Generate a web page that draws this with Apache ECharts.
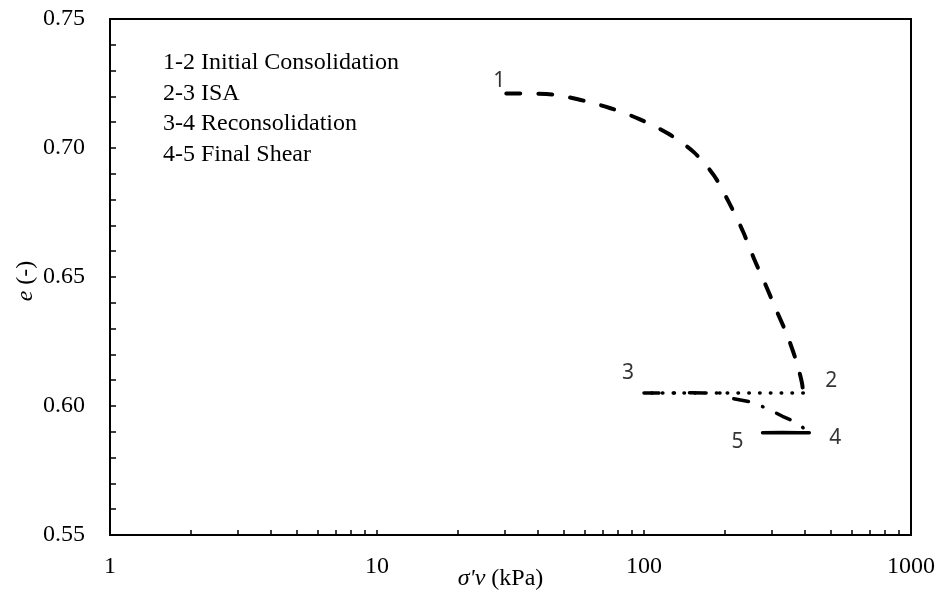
<!DOCTYPE html>
<html>
<head>
<meta charset="utf-8">
<script src="https://cdn.jsdelivr.net/npm/echarts@6/dist/echarts.min.js"></script>
<style>
  html, body { margin: 0; padding: 0; background: #fff; }
  #chart { width: 943px; height: 597px; }
</style>
</head>
<body>
<div id="chart"></div>
<script>
// 1-2 initial consolidation
const consolStress = [30.5, 43.1, 56.5, 74.4, 96.1, 124, 154, 183, 208, 234, 258.5, 286, 313.5, 345, 373, 390, 395];
const consolVoid = [0.7211, 0.7209, 0.7189, 0.7155, 0.7112, 0.7054, 0.6983, 0.6893, 0.6789, 0.668, 0.657, 0.6467, 0.637, 0.627, 0.6169, 0.6092, 0.605];
// 2-3 ISA
const isaStress = [395, 100];
const isaVoid = [0.605, 0.605];
// 3-4 reconsolidation
const reconStress = [100, 150, 195, 215, 251, 290, 330, 377, 405, 412];
const reconVoid = [0.605, 0.6051, 0.605, 0.6029, 0.6016, 0.599, 0.596, 0.5934, 0.5905, 0.5897];
// 4-5 final shear
const shearStress = [416, 380, 330, 278];
const shearVoid = [0.5896, 0.5896, 0.5897, 0.5896];

const pointNames = ['1', '2', '3', '4', '5'];
const pointStress = [30.5, 395, 100, 412, 278];
const pointVoid = [0.7211, 0.605, 0.605, 0.5896, 0.5896];

const stageNotes = ['1-2 Initial Consolidation', '2-3 ISA', '3-4 Reconsolidation', '4-5 Final Shear'];

const xTicks = [1, 2, 3, 4, 5, 6, 7, 8, 9, 10, 20, 30, 40, 50, 60, 70, 80, 90, 100,
  200, 300, 400, 500, 600, 700, 800, 900, 1000];
const xLabels = [1, 10, 100, 1000];

const labelOffsets = [[-7, -13], [28, -12], [-16, -20], [27, 5], [-25, 9]];
const serif = 'Liberation Serif';

const zip = (xs, ys) => xs.map((x, i) => [x, ys[i]]);

const chart = echarts.init(document.getElementById('chart'));

chart.setOption({
  animation: false,
  grid: {
    left: 110, right: 32, top: 19, bottom: 62,
    containLabel: false, outerBoundsMode: 'none',
    show: true, borderColor: '#000', borderWidth: 2
  },
  graphic: stageNotes.map((t, i) => ({
    type: 'text',
    left: 163,
    top: 51 + i * 30.5,
    style: { text: t, font: '24px "Liberation Serif"', fill: '#000' }
  })),
  xAxis: {
    type: 'log',
    logBase: 10,
    min: 1,
    max: 1000,
    name: '{i|σ\'v} (kPa)',
    nameLocation: 'middle',
    nameGap: 32,
    nameMoveOverlap: false,
    nameTextStyle: {
      fontFamily: serif, fontSize: 24, color: '#000', padding: [0, 20, 0, 0],
      rich: { i: { fontFamily: serif, fontSize: 24, fontStyle: 'italic', color: '#000' } }
    },
    axisLine: { lineStyle: { color: '#000', width: 2 } },
    axisTick: { inside: true, length: 5, lineStyle: { color: '#000', width: 1.5 }, customValues: xTicks },
    axisLabel: { fontFamily: serif, fontSize: 24, color: '#000', margin: 20, customValues: xLabels, formatter: v => String(v) },
    splitLine: { show: false },
    minorTick: { show: false }
  },
  yAxis: {
    type: 'value',
    min: 0.55,
    max: 0.75,
    interval: 0.05,
    name: '{i|e} (-)',
    nameLocation: 'middle',
    nameRotate: 90,
    nameGap: 72,
    nameMoveOverlap: false,
    nameTextStyle: {
      fontFamily: serif, fontSize: 24, color: '#000', padding: [0, 0, 0, -8],
      rich: { i: { fontFamily: serif, fontSize: 24, fontStyle: 'italic', color: '#000' } }
    },
    axisLine: { show: true, lineStyle: { color: '#000', width: 2 } },
    axisTick: { inside: true, length: 6, lineStyle: { color: '#000', width: 1.5 } },
    minorTick: { show: true, splitNumber: 5, length: 6, lineStyle: { color: '#000', width: 1.5 } },
    axisLabel: { fontFamily: serif, fontSize: 24, color: '#000', margin: 25, formatter: v => v.toFixed(2) },
    splitLine: { show: false }
  },
  series: [
    {
      name: '1-2', type: 'line', data: zip(consolStress, consolVoid), showSymbol: false, smooth: 0.3,
      lineStyle: { color: '#000', width: 4, type: [14, 18], cap: 'round' }
    },
    {
      name: '2-3', type: 'line', data: zip(isaStress, isaVoid), showSymbol: false,
      lineStyle: { color: '#000', width: 3.5, type: [0.5, 10.3], cap: 'round' }
    },
    {
      name: '3-4', type: 'line', data: zip(reconStress, reconVoid), showSymbol: false,
      lineStyle: { color: '#000', width: 3.5, type: [15, 15, 0.5, 15], cap: 'round' }
    },
    {
      name: '4-5', type: 'line', data: zip(shearStress, shearVoid), showSymbol: false,
      lineStyle: { color: '#000', width: 3.5, cap: 'round' }
    },
    {
      name: 'points', type: 'scatter', symbolSize: 0, silent: true,
      data: pointNames.map((n, i) => ({
        value: [pointStress[i], pointVoid[i]],
        label: {
          show: true, formatter: n, position: 'inside', offset: labelOffsets[i],
          fontFamily: 'Noto Sans', fontSize: 21, color: '#000'
        }
      }))
    }
  ]
});
</script>
</body>
</html>
